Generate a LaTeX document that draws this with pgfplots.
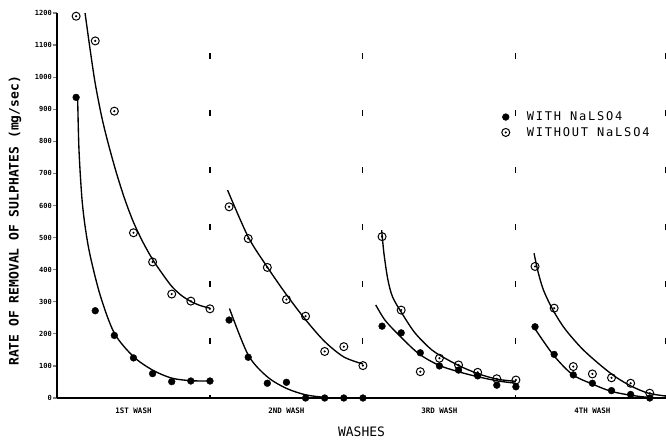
\documentclass[border=0pt]{standalone}
\usepackage{pgfplots}
\pgfplotsset{compat=1.18}
\usepackage{fontspec}
\newfontfamily\plotfont{DejaVu Sans Mono}
\newfontfamily\legfont[LetterSpace=15]{DejaVu Sans Mono}
\pgfdeclareplotmark{odot}{%
  \pgfpathcircle{\pgfpointorigin}{\pgfplotmarksize}\pgfusepathqstroke
  \pgfpathcircle{\pgfpointorigin}{0.3\pgfplotmarksize}\pgfusepathqfill}
\begin{document}
\begin{tikzpicture}
\path[use as bounding box] (-57pt,-42pt) rectangle (609pt,398pt);
\begin{axis}[
  scale only axis, width=609pt, height=385pt,
  xmin=0, xmax=31.85, ymin=0, ymax=1200,
  axis x line*=bottom, axis y line*=left,
  axis line style={line width=1.3pt},
  ytick={0,100,...,1200},
  tick align=outside, major tick length=4pt,
  ytick style={line width=1.3pt},
  xtick={4,12,20,28},
  xticklabels={1ST WASH,2ND WASH,3RD WASH,4TH WASH},
  xtick style={draw=none},
  xticklabel style={font=\plotfont\bfseries\fontsize{7.5}{8}\selectfont, yshift=-2pt},
  yticklabel style={font=\plotfont\bfseries\fontsize{7}{8}\selectfont, inner sep=1pt},
  /pgf/number format/assume math mode=true,
  /pgf/number format/1000 sep={},
  scaled y ticks=false,
  xlabel={WASHES},
  xlabel style={font=\plotfont\fontsize{13}{14}\selectfont, at={(axis description cs:0.5,0)}, anchor=center, yshift=-34pt},
  ylabel={RATE OF REMOVAL OF SULPHATES (mg/sec)},
  ylabel style={font=\plotfont\bfseries\fontsize{13}{14}\selectfont, at={(axis description cs:-0.069,0.46)}, anchor=center},
  legend style={at={(0.73,0.749)}, anchor=north west, draw=none, fill=none,
     font=\legfont\fontsize{12}{13}\selectfont, row sep=1pt, inner sep=0pt},
  legend cell align=left,
]
% separators
\addplot[forget plot, line width=1.1pt, dash pattern=on 6pt off 51pt] coordinates {(8,-10) (8,1200)};
\addplot[forget plot, line width=1.1pt, dash pattern=on 6pt off 51pt] coordinates {(16,-10) (16,1200)};
\addplot[forget plot, line width=1.1pt, dash pattern=on 6pt off 51pt] coordinates {(24,-10) (24,1200)};
\addplot[forget plot, line width=1.1pt, dash pattern=on 6pt off 51pt] coordinates {(31.82,-10) (31.82,1200)};
% legend images
\addlegendimage{only marks, mark=*, mark size=3.4pt, black}
\addlegendentry{\hspace*{15pt}WITH NaLSO4}
\addlegendimage{only marks, mark=odot, mark size=4pt, black, line width=1pt}
\addlegendentry{\hspace*{15pt}WITHOUT NaLSO4}
% fitted curves, WITHOUT
\addplot[forget plot, smooth, line width=1.35pt] coordinates {(1.46,1203)(1.73,1087)(2,980)(2.34,876)(2.68,793)(3.12,699)(3.56,617)(4,548)(4.5,485)(5,432)(5.5,388)(6,348)(6.5,320)(7,301)(7.5,288)(8,280)};
\addplot[forget plot, smooth, line width=1.35pt] coordinates {(8.92,648)(10,502)(11,408)(12,322)(13,244)(14,176)(15,128)(16,106)};
\addplot[forget plot, smooth, line width=1.35pt] coordinates {(16.98,523)(17.1,450)(17.3,370)(17.55,315)(18.03,265)(18.72,203)(19.6,150)(20.47,118)(21.34,92)(22.21,72)(23.08,58)(24,52)};
\addplot[forget plot, smooth, line width=1.35pt] coordinates {(24.95,451)(25.15,395)(25.45,335)(25.96,272)(26.57,215)(27.44,155)(28.31,108)(29.18,67)(30.06,36)(30.93,15)(31.85,6)};
% fitted curves, WITH
\addplot[forget plot, smooth, line width=1.35pt] coordinates {(1.08,935)(1.15,773)(1.3,625)(1.47,535)(1.73,445)(2.27,318)(3,202)(4,129)(5,87)(6,62)(7,54)(8,53)};
\addplot[forget plot, smooth, line width=1.35pt] coordinates {(9.02,279)(10,134)(11,66)(12,30)(13,10)(14,2)(14.6,0)(16,0)};
\addplot[forget plot, smooth, line width=1.35pt] coordinates {(16.67,290)(17.15,243)(17.85,198)(18.9,139)(19.94,103)(20.99,82)(22.03,66)(23.08,53)(24,46)};
\addplot[forget plot, smooth, line width=1.35pt] coordinates {(24.95,220)(25.96,134)(26.96,73)(27.98,44)(28.97,21)(29.97,9)(30.93,2)(31.85,0)};
% data points WITHOUT
\addplot[forget plot, only marks, mark=odot, mark size=4pt, line width=1pt] coordinates {
(1,1190)(2,1113)(3,894)(4,515)(5,424)(6,324)(7,302)(8,278)
(9,596)(10,497)(11,407)(12,307)(13,255)(14,145)(15,160)(16,101)
(17,503)(18,274)(19,82)(20,124)(21,103)(22,80)(23,60)(24,56)
(25,410)(26,280)(27,98)(28,75)(29,63)(30,46)(31,15)(32,6)};
% data points WITH
\addplot[forget plot, only marks, mark=*, mark size=3.4pt] coordinates {
(1,937)(2,272)(3,195)(4,125)(5,76)(6,51)(7,53)(8,53)
(9,243)(10,127)(11,46)(12,49)(13,0)(14,0)(15,0)(16,0)
(17,224)(18,203)(19,141)(20,100)(21,87)(22,69)(23,40)(24,35)
(25,222)(26,136)(27,72)(28,46)(29,23)(30,11)(31,0)(32,0)};
\end{axis}
\end{tikzpicture}
\end{document}
